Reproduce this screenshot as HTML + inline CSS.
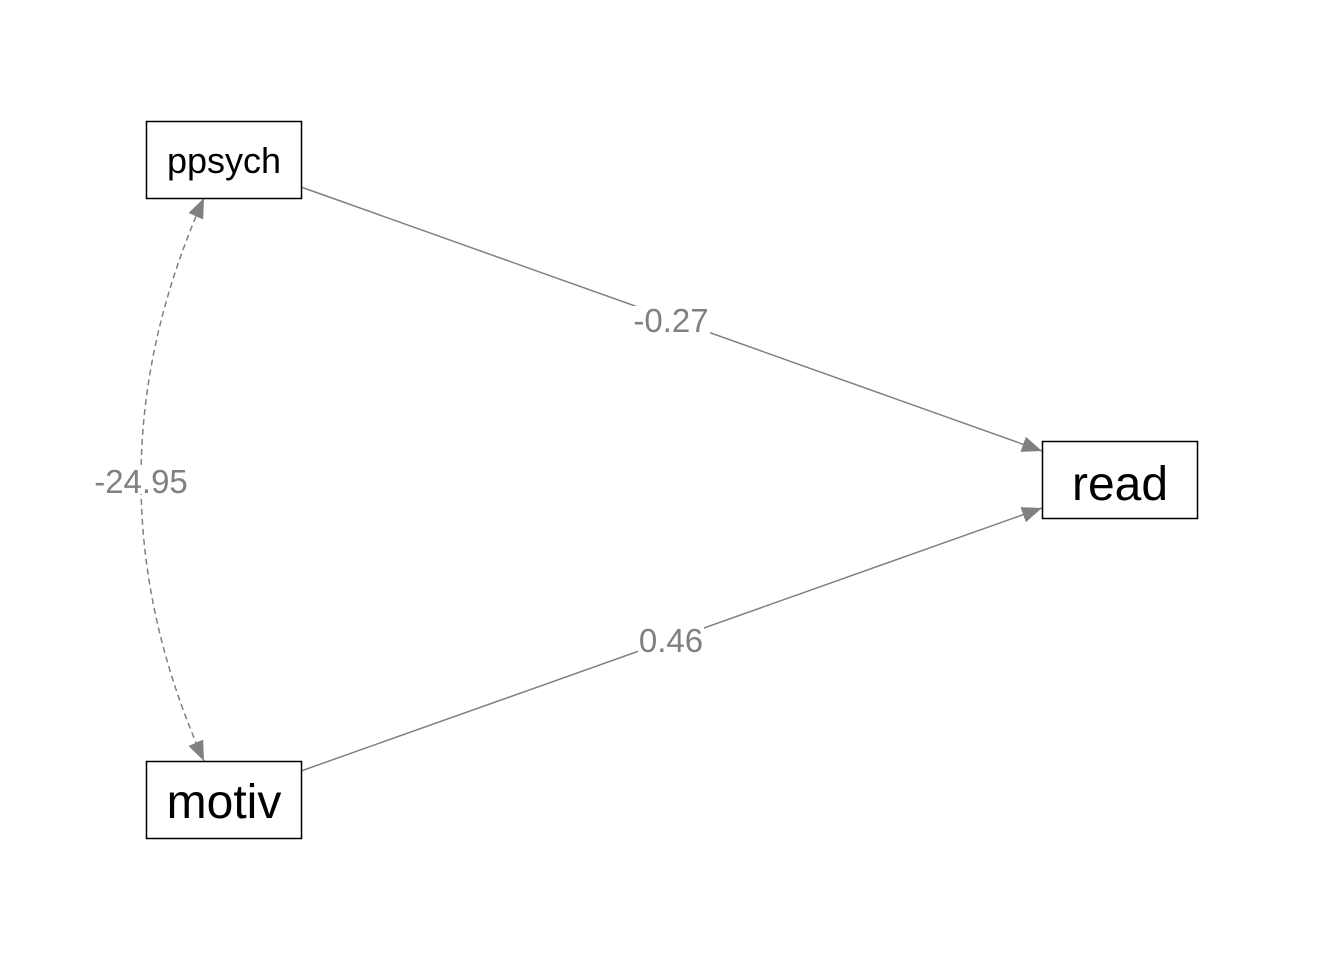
<!DOCTYPE html>
<html><head><style>body{margin:0;background:#fff}</style></head><body>
<svg width="1344" height="960" xmlns="http://www.w3.org/2000/svg" font-family="Liberation Sans, Arial, sans-serif">
<defs>
<marker id="a" viewBox="0 0 10 10" refX="10" refY="5" markerWidth="20" markerHeight="16" markerUnits="userSpaceOnUse" orient="auto-start-reverse" preserveAspectRatio="none"><path d="M0,0L10,5L0,10Z" fill="#808080"/></marker>
</defs>
<rect width="1344" height="960" fill="#fff"/>
<path d="M204,198 Q78,480 204,761" fill="none" stroke="#808080" stroke-width="1.5" stroke-dasharray="6,4" marker-start="url(#a)" marker-end="url(#a)"/>
<line x1="301" y1="187" x2="1042" y2="451" stroke="#808080" stroke-width="1.5" marker-end="url(#a)"/>
<line x1="301" y1="771" x2="1042" y2="508" stroke="#808080" stroke-width="1.5" marker-end="url(#a)"/>
<rect x="632" y="306" width="78" height="28" fill="#fff"/>
<text x="671" y="332" font-size="33" fill="#808080" text-anchor="middle">-0.27</text>
<rect x="638" y="626" width="66" height="28" fill="#fff"/>
<text x="671" y="652" font-size="33" fill="#808080" text-anchor="middle">0.46</text>
<rect x="92" y="468" width="98" height="26" fill="#fff"/>
<text x="141" y="493" font-size="33" fill="#808080" text-anchor="middle">-24.95</text>
<rect x="146.5" y="121.5" width="155" height="77" fill="#fff" stroke="#000" stroke-width="1.5"/>
<text x="224" y="173" font-size="36" text-anchor="middle">ppsych</text>
<rect x="146.5" y="761.5" width="155" height="77" fill="#fff" stroke="#000" stroke-width="1.5"/>
<text x="224" y="818" font-size="48" text-anchor="middle">motiv</text>
<rect x="1042.5" y="441.5" width="155" height="77" fill="#fff" stroke="#000" stroke-width="1.5"/>
<text x="1120" y="500" font-size="48" text-anchor="middle">read</text>
</svg>
</body></html>
